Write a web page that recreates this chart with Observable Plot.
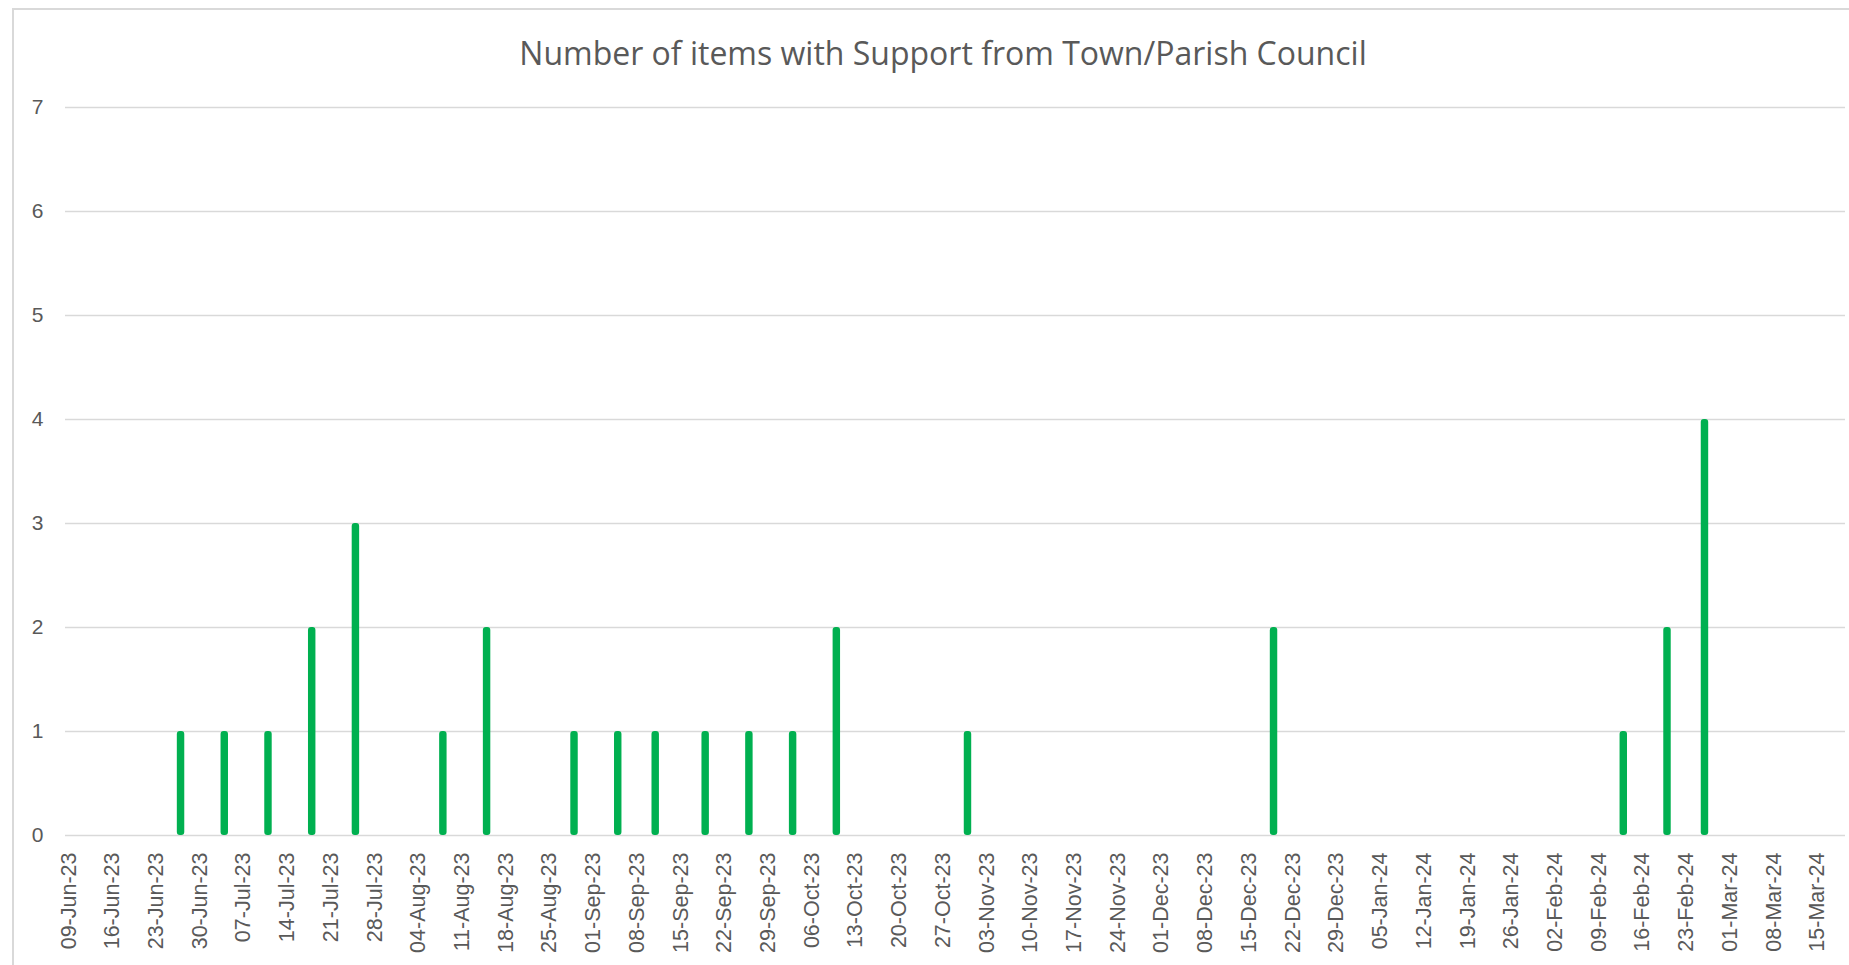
<!DOCTYPE html>
<html>
<head>
<meta charset="utf-8">
<script src="https://cdn.jsdelivr.net/npm/d3@7"></script>
<script src="https://cdn.jsdelivr.net/npm/@observablehq/plot@0.6"></script>
<style>
  html, body { margin: 0; padding: 0; background: #fff; }
  #wrap { position: relative; width: 1849px; height: 965px; overflow: hidden; }
  #frame { position: absolute; left: 12px; top: 8px; right: 0; bottom: -2px;
           border-left: 2px solid #d9d9d9; border-top: 2px solid #d9d9d9; }
  #title { position: absolute; left: 343px; width: 1200px; top: 37px; text-align: center;
           font-family: "Open Sans", sans-serif; font-size: 32px; line-height: 1; color: #595959; margin: 0; font-weight: 400; }
  #chart { position: absolute; left: 0; top: 80px; }
</style>
</head>
<body>
<div id="wrap">
  <div id="frame"></div>
  <h2 id="title">Number of items with Support from Town/Parish Council</h2>
  <div id="chart"></div>
</div>
<script>
// Dates of items (day-month-year) and number of items with support
const dates = ["27-Jun-23","04-Jul-23","11-Jul-23","18-Jul-23","25-Jul-23","08-Aug-23","15-Aug-23",
  "29-Aug-23","05-Sep-23","11-Sep-23","19-Sep-23","26-Sep-23","03-Oct-23","10-Oct-23","31-Oct-23",
  "19-Dec-23","13-Feb-24","20-Feb-24","26-Feb-24"];
const counts = [1,1,1,2,3,1,2,1,1,1,1,1,1,2,1,2,1,2,4];

// Weekly x-axis tick labels
const weekLabels = ["09-Jun-23","16-Jun-23","23-Jun-23","30-Jun-23","07-Jul-23","14-Jul-23","21-Jul-23",
  "28-Jul-23","04-Aug-23","11-Aug-23","18-Aug-23","25-Aug-23","01-Sep-23","08-Sep-23","15-Sep-23",
  "22-Sep-23","29-Sep-23","06-Oct-23","13-Oct-23","20-Oct-23","27-Oct-23","03-Nov-23","10-Nov-23",
  "17-Nov-23","24-Nov-23","01-Dec-23","08-Dec-23","15-Dec-23","22-Dec-23","29-Dec-23","05-Jan-24",
  "12-Jan-24","19-Jan-24","26-Jan-24","02-Feb-24","09-Feb-24","16-Feb-24","23-Feb-24","01-Mar-24",
  "08-Mar-24","15-Mar-24"];
const yTicks = [0,1,2,3,4,5,6,7];

const axisStart = "09-Jun-23";
const axisEnd = "19-Mar-24";

const parse = d3.utcParse("%d-%b-%y");
const fmt = d3.utcFormat("%d-%b-%y");
const dayDomain = d3.utcDay.range(parse(axisStart), d3.utcDay.offset(parse(axisEnd), 1)).map(fmt);

const data = dates.map((d, i) => ({date: d, count: counts[i]}));

const chart = Plot.plot({
  width: 1849,
  height: 885,
  marginLeft: 65,
  marginRight: 4,
  marginTop: 27,
  marginBottom: 130,
  style: {fontFamily: "'Liberation Sans', Arial, sans-serif", color: "#595959", background: "transparent"},
  x: {type: "band", domain: dayDomain, padding: 0},
  y: {domain: [0, 7], ticks: yTicks},
  marks: [
    Plot.gridY(yTicks, {stroke: "#d9d9d9", strokeOpacity: 1, strokeWidth: 1.5}),
    Plot.axisY({ticks: yTicks, tickFormat: d => String(d), tickSize: 0, tickPadding: 22, fontSize: 21, fill: "#595959", label: null}),
    Plot.axisX({ticks: weekLabels, tickSize: 0, tickRotate: -90, tickPadding: 17, fontSize: 21.5, fill: "#595959", label: null}),
    Plot.barY(data, {x: "date", y: "count", fill: "#00b050", rx: 3, insetLeft: -0.6, insetRight: -0.6})
  ]
});
document.getElementById("chart").appendChild(chart);
</script>
</body>
</html>
